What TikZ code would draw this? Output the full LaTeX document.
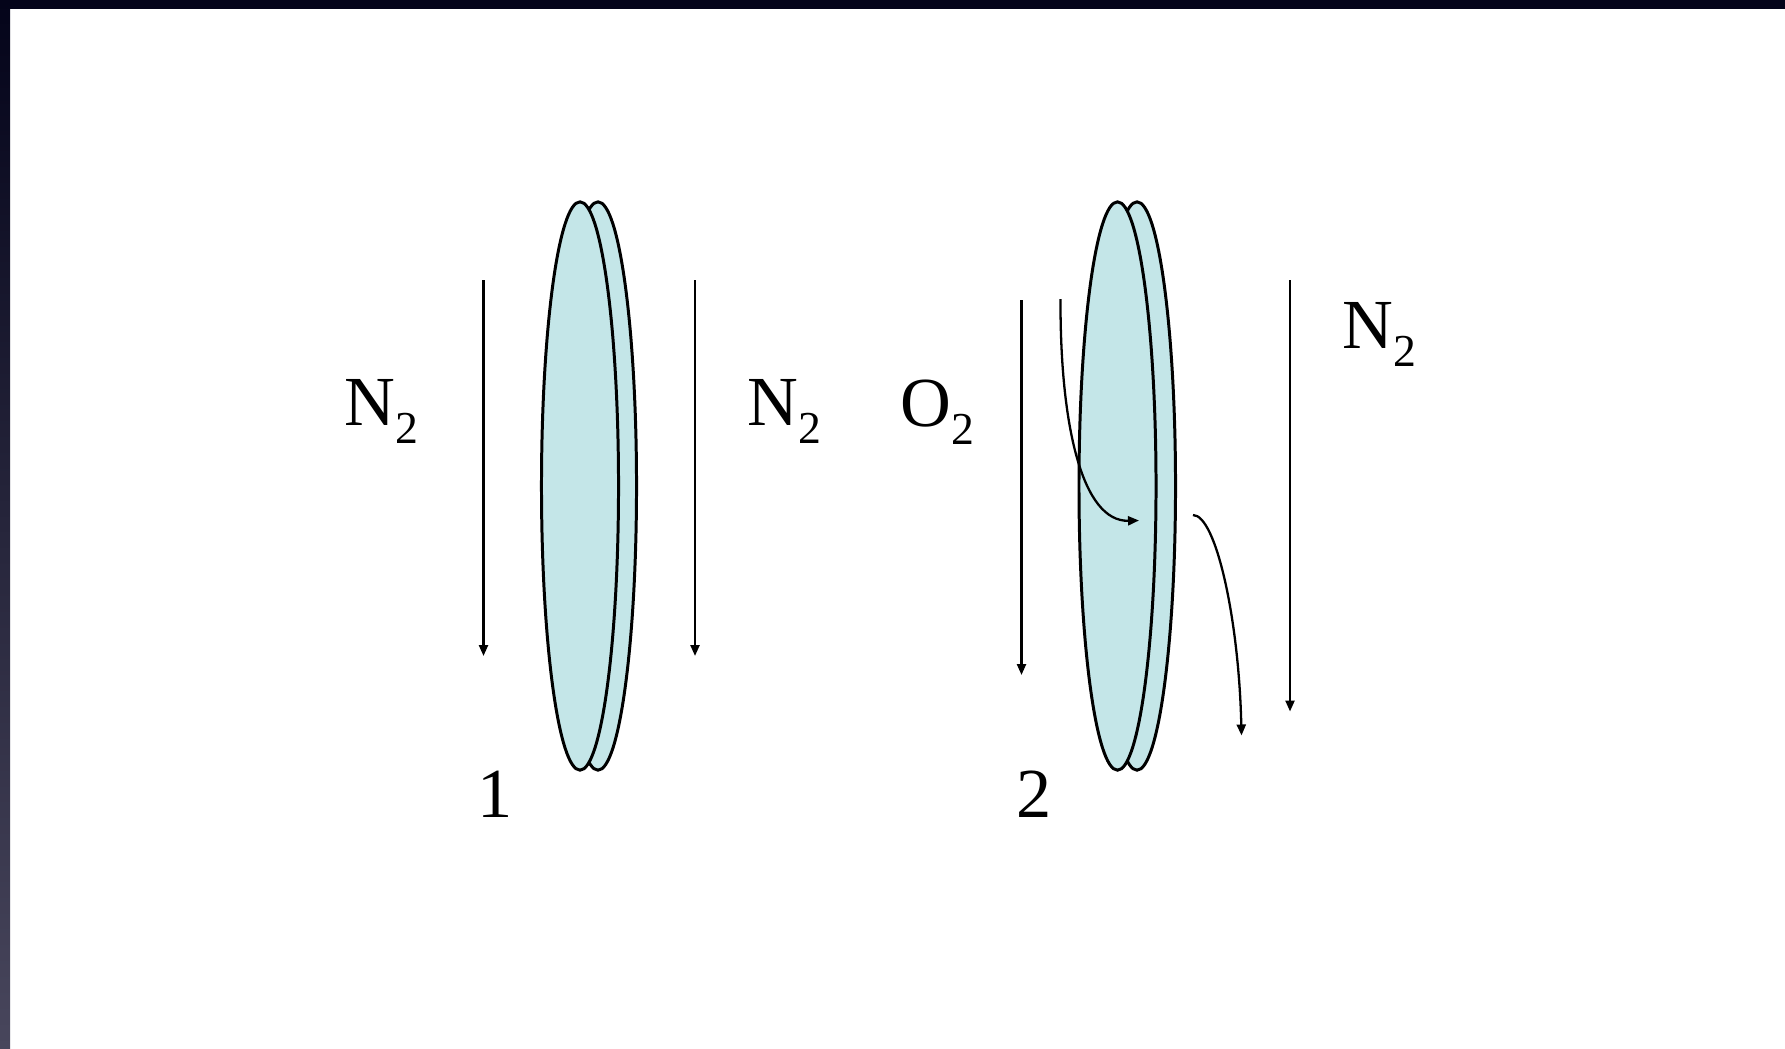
\documentclass[tikz,border=0pt]{standalone}
\usepackage{fontspec}
\setmainfont{Liberation Serif}
\usetikzlibrary{arrows.meta}
\definecolor{diskfill}{RGB}{196,230,232}
\definecolor{framedark}{RGB}{4,4,26}
\definecolor{framegray}{RGB}{72,70,92}
\newcommand\subtwo{\raisebox{-0.26em}{\fontsize{13}{15}\selectfont 2}}
\begin{document}
\begin{tikzpicture}[x=0.01cm,y=-0.01cm,
  disk/.style={draw=black, line width=0.85pt, fill=diskfill},
  flow/.style={line width=0.65pt, -{Triangle[length=1.1mm,width=0.9mm]}},
  lbl/.style={font=\fontsize{20}{24}\selectfont, inner sep=0pt, anchor=base west},
  num/.style={font=\fontsize{20}{24}\selectfont, inner sep=0pt, anchor=base}]
\useasboundingbox (0,0) rectangle (1785,1048);
\fill[white] (0,0) rectangle (1785,1048);
\shade[top color=framedark, bottom color=framegray] (0,0) rectangle (10,1048);
\fill[framedark] (0,0) rectangle (1785,9);

% disk 1
\path[disk] (598,486) ellipse [x radius=0.385cm, y radius=2.84cm];
\path[disk] (580,486) ellipse [x radius=0.385cm, y radius=2.84cm];
% disk 2
\path[disk] (1137,486) ellipse [x radius=0.385cm, y radius=2.84cm];
\path[disk] (1117.5,486) ellipse [x radius=0.385cm, y radius=2.84cm];

% coordinates of flows
\coordinate (a1s) at (483.5,280);
\coordinate (a1e) at (483.5,656);
\coordinate (a2s) at (695,280);
\coordinate (a2e) at (695,656);
\coordinate (b1s) at (1021.5,300);
\coordinate (b1e) at (1021.5,675);
\coordinate (c1s) at (1060.5,299);
\coordinate (c1e) at (1139,520.5);
\coordinate (c2s) at (1193,515);
\coordinate (c2e) at (1241.5,735.5);
\coordinate (b2s) at (1290,280);
\coordinate (b2e) at (1290,711.5);

\draw[flow] (a1s) -- (a1e);
\draw[flow] (a2s) -- (a2e);
\draw[flow] (b1s) -- (b1e);
\draw[flow] (b2s) -- (b2e);
\draw[flow] (c1s) .. controls (1060,425) and (1082,522) .. (c1e);
\draw[flow] (c2s) .. controls (1216,515) and (1239,620) .. (c2e);

% labels
\node[lbl] (n2a) at (344,425) {N\subtwo};
\node[lbl] (n2b) at (747,425) {N\subtwo};
\node[lbl] (o2) at (899.5,426) {O\subtwo};
\node[lbl] (n2c) at (1342,348) {N\subtwo};
\node[num] (one) at (495,817) {1};
\node[num] (two) at (1034,817) {2};
\end{tikzpicture}
\end{document}
